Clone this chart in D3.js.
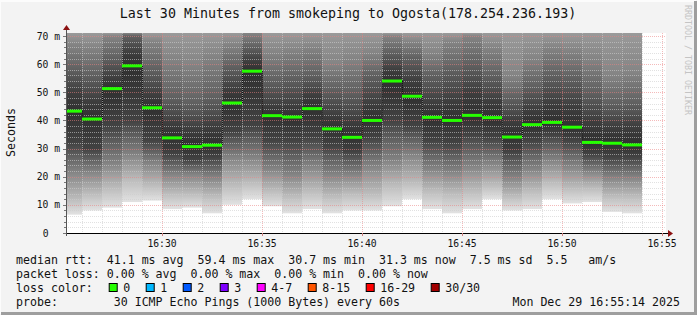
<!DOCTYPE html>
<html>
<head>
<meta charset="utf-8">
<script src="https://cdn.jsdelivr.net/npm/d3@7"></script>
<style>
  html, body { margin: 0; padding: 0; background: #f3f3f3; }
  svg { display: block; font-family: "DejaVu Sans Mono", monospace; }
  text { white-space: pre; }
</style>
</head>
<body>
<svg id="chart"></svg>
<script>
// one column per minute, start of each RRD step
const stepStarts = ['16:25', '16:26', '16:27', '16:28', '16:29', '16:30', '16:31', '16:32', '16:33', '16:34',
  '16:35', '16:36', '16:37', '16:38', '16:39', '16:40', '16:41', '16:42', '16:43', '16:44',
  '16:45', '16:46', '16:47', '16:48', '16:49', '16:50', '16:51', '16:52', '16:53'];

// median rtt per step (ms)
const medianRtt = [43.3, 40.5, 51.3, 59.4, 44.5, 33.8, 30.7, 31.2, 46.2, 57.5, 41.7, 41.2, 44.2, 37.0, 34.0,
  40.0, 54.0, 48.6, 41.1, 40.0, 41.8, 41.0, 34.1, 38.5, 39.3, 37.6, 32.2, 31.9, 31.3];

// smoke: ping spread per step (ms), lowest ping and rough percentiles
const pingMin = [6.5, 8, 9, 11, 11.5, 8.5, 9, 7, 10, 12, 9.5, 7, 8.5, 7, 8, 8, 9.5, 12, 8.5, 7, 8.5, 12, 8, 8.5, 12, 10.5, 11, 7.5, 7];
const ping10 = [12, 14, 16, 19, 17, 14, 14, 13, 17, 18, 15, 13, 15, 13, 14, 14, 17, 18, 15, 14, 15, 17, 13, 15, 18, 16, 16, 13, 13];
const ping25 = [22, 22, 25, 28, 25, 21, 21, 20, 27, 27, 23, 21, 24, 21, 21, 24, 26, 28, 23, 22, 24, 25, 20, 23, 26, 24, 22, 20, 20];
const ping40 = [32, 30, 38, 40, 33, 28, 26, 27, 36, 38, 33, 33, 34, 31, 29, 34, 40, 38, 33, 32, 35, 34, 29, 33, 35, 33, 28, 27, 27];
const ping60 = [50, 47, 55, 64, 49, 39, 37, 38, 51, 61, 45, 45, 49, 42, 40, 46, 58, 54, 46, 47, 50, 47, 40, 44, 46, 45, 40, 38, 38];
const ping75 = [58, 56, 62, 70, 58, 48, 46, 48, 59, 66, 54, 55, 56, 51, 50, 56, 64, 62, 56, 58, 60, 56, 48, 52, 56, 55, 50, 46, 46];
const ping90 = [67, 66, 70, 76, 68, 62, 60, 63, 67, 72, 64, 65, 66, 60, 62, 64, 70, 68, 64, 68, 70, 66, 56, 62, 66, 65, 62, 56, 57];

const yTicks = [0, 10, 20, 30, 40, 50, 60, 70];
const lossLabels = ['0', '1', '2', '3', '4-7', '8-15', '16-29', '30/30'];
const lossColors = ['#26ff00', '#00b8ff', '#0059ff', '#7e00ff', '#ff00ff', '#ff5500', '#ff0000', '#a10000'];

const titleText = 'Last 30 Minutes from smokeping to Ogosta(178.254.236.193)';
const legendLines = [
  'median rtt:  41.1 ms avg  59.4 ms max  30.7 ms min  31.3 ms now  7.5 ms sd  5.5   am/s',
  'packet loss: 0.00 % avg  0.00 % max  0.00 % min  0.00 % now'
];
const probeText = 'probe:        30 ICMP Echo Pings (1000 Bytes) every 60s';
const stampText = 'Mon Dec 29 16:55:14 2025';

const W = 697, H = 315;
const plot = { left: 66, right: 666, top: 33, bottom: 233 };
const parse = d3.timeParse('%Y-%m-%d %H:%M:%S');
const day = '2025-12-29 ';

const svg = d3.select('#chart').attr('width', W).attr('height', H);

// background + 3d frame
svg.append('rect').attr('width', W).attr('height', H).attr('fill', '#f3f3f3');
svg.append('path').attr('d', `M0,${H - 1}V1H${W - 1}`).attr('fill', 'none').attr('stroke', '#fcfcfc').attr('stroke-width', 2);
svg.append('path').attr('d', `M1,${H - 1.5}H${W - 1.5}V1`).attr('fill', 'none').attr('stroke', '#9e9e9e').attr('stroke-width', 3);

const x = d3.scaleTime()
  .domain([parse(day + '16:25:12'), parse(day + '16:55:12')])
  .range([plot.left, plot.right]);

const y = d3.scaleLinear()
  .domain([0, 71.07])
  .range([plot.bottom, plot.top]);

// canvas
svg.append('rect')
  .attr('x', plot.left).attr('y', plot.top)
  .attr('width', plot.right - plot.left).attr('height', plot.bottom - plot.top)
  .attr('fill', '#ffffff');

const defs = svg.append('defs');
defs.append('clipPath').attr('id', 'clip')
  .append('rect')
  .attr('x', plot.left).attr('y', plot.top)
  .attr('width', plot.right - plot.left).attr('height', plot.bottom - plot.top);

const steps = stepStarts.map((s, i) => ({
  t0: parse(day + s + ':00'),
  t1: d3.timeMinute.offset(parse(day + s + ':00'), 1),
  levels: [pingMin[i], ping10[i], ping25[i], ping40[i], medianRtt[i], ping60[i], ping75[i], ping90[i]],
  median: medianRtt[i]
}));

// smoke shade at each level, darkest around the median
const levelShades = ['#e2e2e2', '#bcbcbc', '#828282', '#424242', '#303030', '#3e3e3e', '#606060', '#848484'];
const topShade = '#9a9a9a';
const smoke = svg.append('g').attr('clip-path', 'url(#clip)');

steps.forEach((s, i) => {
  const x0 = Math.max(x(s.t0), plot.left);
  const x1 = x(s.t1);
  const yLo = y(s.levels[0]);
  const yHi = plot.top;
  const grad = defs.append('linearGradient')
    .attr('id', 'smoke' + i)
    .attr('gradientUnits', 'userSpaceOnUse')
    .attr('x1', 0).attr('x2', 0)
    .attr('y1', yLo).attr('y2', yHi);
  s.levels.forEach((v, k) => {
    grad.append('stop')
      .attr('offset', Math.min(1, (yLo - y(v)) / (yLo - yHi)))
      .attr('stop-color', levelShades[k]);
  });
  grad.append('stop').attr('offset', 1)
    .attr('stop-color', y(s.levels[7]) > yHi ? topShade : levelShades[7]);

  smoke.append('rect')
    .attr('x', x0).attr('width', x1 - x0)
    .attr('y', yHi).attr('height', yLo - yHi)
    .attr('fill', `url(#smoke${i})`);
});

// grid over the smoke
const grid = svg.append('g').attr('clip-path', 'url(#clip)');
const minorY = d3.range(0, 72, 2).filter(v => v % 10 !== 0);
const minorColor = 'rgba(205,205,205,0.6)';
const majorColor = 'rgba(235,130,130,0.55)';

grid.selectAll('.hmin').data(minorY).enter().append('line')
  .attr('x1', plot.left).attr('x2', plot.right)
  .attr('y1', d => Math.round(y(d)) + 0.5).attr('y2', d => Math.round(y(d)) + 0.5)
  .attr('stroke', minorColor).attr('stroke-dasharray', '1,1');

const minuteTicks = x.ticks(d3.timeMinute.every(1)).filter(d => d.getMinutes() % 5 !== 0);
grid.selectAll('.vmin').data(minuteTicks).enter().append('line')
  .attr('y1', plot.top).attr('y2', plot.bottom)
  .attr('x1', d => Math.round(x(d)) + 0.5).attr('x2', d => Math.round(x(d)) + 0.5)
  .attr('stroke', minorColor).attr('stroke-dasharray', '1,1');

grid.selectAll('.hmaj').data(yTicks.filter(d => d > 0)).enter().append('line')
  .attr('x1', plot.left).attr('x2', plot.right)
  .attr('y1', d => Math.round(y(d)) + 0.5).attr('y2', d => Math.round(y(d)) + 0.5)
  .attr('stroke', majorColor).attr('stroke-dasharray', '1,1');

const majorTicks = x.ticks(d3.timeMinute.every(5));
grid.selectAll('.vmaj').data(majorTicks).enter().append('line')
  .attr('y1', plot.top).attr('y2', plot.bottom)
  .attr('x1', d => Math.round(x(d)) + 0.5).attr('x2', d => Math.round(x(d)) + 0.5)
  .attr('stroke', majorColor).attr('stroke-dasharray', '1,1');

// median: green steps with dotted risers
const med = svg.append('g').attr('clip-path', 'url(#clip)');
steps.forEach((s, i) => {
  if (i > 0) {
    med.append('line')
      .attr('x1', x(s.t0) + 0.5).attr('x2', x(s.t0) + 0.5)
      .attr('y1', y(steps[i - 1].median)).attr('y2', y(s.median))
      .attr('stroke', '#111').attr('stroke-dasharray', '1,1');
  }
});
steps.forEach(s => {
  med.append('line')
    .attr('x1', Math.max(x(s.t0), plot.left)).attr('x2', x(s.t1))
    .attr('y1', y(s.median)).attr('y2', y(s.median))
    .attr('stroke', '#26ff00').attr('stroke-width', 3);
});

// axes
svg.append('line')
  .attr('x1', plot.left - 3).attr('x2', plot.right + 3)
  .attr('y1', plot.bottom + 0.5).attr('y2', plot.bottom + 0.5)
  .attr('stroke', '#000');
svg.append('line')
  .attr('x1', plot.left + 0.5).attr('x2', plot.left + 0.5)
  .attr('y1', plot.bottom + 3).attr('y2', plot.top - 3)
  .attr('stroke', '#555');
svg.append('path')
  .attr('d', `M${plot.right + 2},${plot.bottom - 3}L${plot.right + 7},${plot.bottom + 0.5}L${plot.right + 2},${plot.bottom + 4}Z`)
  .attr('fill', '#8b1010');
svg.append('path')
  .attr('d', `M${plot.left - 3},${plot.top - 3}L${plot.left + 0.5},${plot.top - 8}L${plot.left + 4},${plot.top - 3}Z`)
  .attr('fill', '#8b1010');

// tick marks
svg.selectAll('.ytick').data(minorY.concat(yTicks)).enter().append('line')
  .attr('x1', d => yTicks.includes(d) ? plot.left - 3 : plot.left - 2).attr('x2', plot.left)
  .attr('y1', d => Math.round(y(d)) + 0.5).attr('y2', d => Math.round(y(d)) + 0.5)
  .attr('stroke', '#777');
svg.selectAll('.xtick').data(majorTicks).enter().append('line')
  .attr('x1', d => Math.round(x(d)) + 0.5).attr('x2', d => Math.round(x(d)) + 0.5)
  .attr('y1', plot.bottom).attr('y2', plot.bottom + 3)
  .attr('stroke', '#d08080');

// tick labels
svg.selectAll('.ylab').data(yTicks).enter().append('text')
  .attr('x', d => d === 0 ? 48.5 : 60)
  .attr('y', d => y(d) + 3.5)
  .attr('text-anchor', 'end')
  .attr('font-size', 9.7)
  .attr('fill', '#111')
  .text(d => d === 0 ? '0' : d + ' m');

svg.selectAll('.xlab').data(majorTicks).enter().append('text')
  .attr('x', d => x(d))
  .attr('y', 247)
  .attr('text-anchor', 'middle')
  .attr('font-size', 9.7)
  .attr('fill', '#111')
  .text(d3.timeFormat('%H:%M'));

// titles
svg.append('text')
  .attr('x', 348).attr('y', 18)
  .attr('text-anchor', 'middle')
  .attr('font-size', 13.3)
  .attr('fill', '#111')
  .text(titleText);

svg.append('text')
  .attr('transform', 'translate(15,132.5) rotate(-90)')
  .attr('text-anchor', 'middle')
  .attr('font-size', 11.6)
  .attr('fill', '#111')
  .text('Seconds');

svg.append('text')
  .attr('transform', 'translate(685,5) rotate(90)')
  .attr('font-size', 8.3)
  .attr('fill', '#c4c4c4')
  .text('RRDTOOL / TOBI OETIKER');

// legend
const legend = svg.append('g').attr('font-size', 11.6).attr('fill', '#111');
legendLines.forEach((l, i) => {
  legend.append('text').attr('x', 16).attr('y', 264 + i * 14).text(l);
});
legend.append('text').attr('x', 16).attr('y', 292).text('loss color:');

let bx = 108.7;
lossLabels.forEach((l, i) => {
  legend.append('rect')
    .attr('x', bx + 0.5).attr('y', 283.5)
    .attr('width', 8).attr('height', 8)
    .attr('fill', lossColors[i]).attr('stroke', '#000');
  legend.append('text').attr('x', bx + 14.5).attr('y', 292).text(l);
  bx += 14.5 + l.length * 7 + 15.5;
});

legend.append('text').attr('x', 16).attr('y', 306).text(probeText);
legend.append('text').attr('x', 680).attr('y', 306).attr('text-anchor', 'end').text(stampText);
</script>
</body>
</html>
